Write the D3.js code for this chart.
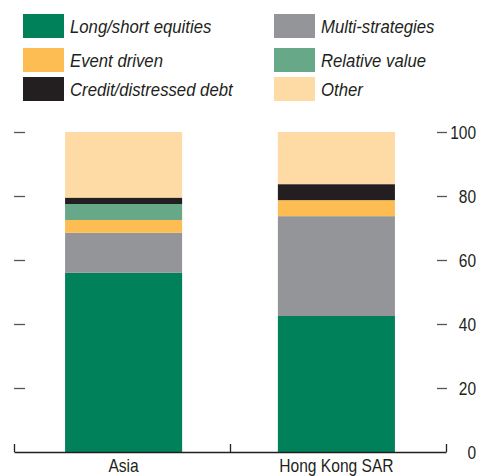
<!DOCTYPE html>
<html>
<head>
<meta charset="utf-8">
<script src="https://cdn.jsdelivr.net/npm/d3@7"></script>
<style>
  body { margin: 0; background: #fff; }
  svg text { font-family: "Liberation Sans Narrow", "Arial Narrow", "Liberation Sans", sans-serif; fill: #231f20; }
  .legend text { font-style: italic; }
</style>
</head>
<body>
<script>
(function() {

    // Categories and series (percent of total)
    var categories = ['Asia', 'Hong Kong SAR'];
    var seriesNames = ['Long/short equities', 'Multi-strategies', 'Event driven',
                       'Relative value', 'Credit/distressed debt', 'Other'];
    var longShort  = [56, 42.5];
    var multiStrat = [12.5, 31.2];
    var eventDriven = [4, 5];
    var relativeValue = [5, 0];
    var creditDebt = [2, 5];
    var other = [20.5, 16.3];
    var yTicks = [0, 20, 40, 60, 80, 100];

    var colors = ['#00815a', '#939598', '#fdbd53', '#66a887', '#231f20', '#fedaa5'];

    var width = 479, height = 476;

    // Narrow the type a bit (reference uses a condensed face)
    function condense(sel, k) {
        sel.each(function() {
            var len = this.getComputedTextLength();
            d3.select(this).attr('textLength', len * k).attr('lengthAdjust', 'spacingAndGlyphs');
        });
    }

    // Build rows for the stack
    var seriesValues = [longShort, multiStrat, eventDriven, relativeValue, creditDebt, other];
    var rows = categories.map(function(c, i) {
        var r = {category: c};
        seriesNames.forEach(function(s, j) { r[s] = seriesValues[j][i]; });
        return r;
    });
    var stacked = d3.stack().keys(seriesNames)(rows);

    var svg = d3.select('body').append('svg')
        .attr('width', width)
        .attr('height', height);

    // Scales
    var x = d3.scaleBand().domain(categories).range([14, 446])
        .paddingInner(0.45).paddingOuter(0.24);
    var y = d3.scaleLinear().domain([0, 100]).range([452, 132]);
    var color = d3.scaleOrdinal().domain(seriesNames).range(colors);

    // Bars
    svg.append('g').selectAll('g')
        .data(stacked)
        .enter().append('g')
        .attr('fill', function(d) { return color(d.key); })
      .selectAll('rect')
        .data(function(d) { return d; })
        .enter().append('rect')
        .attr('x', function(d) { return x(d.data.category); })
        .attr('width', x.bandwidth())
        .attr('y', function(d) { return y(d[1]); })
        .attr('height', function(d) { return y(d[0]) - y(d[1]); });

    // Left ticks (no labels)
    var left = svg.append('g')
        .attr('transform', 'translate(14,0)')
        .call(d3.axisRight(y).tickValues(yTicks.filter(function(v) { return v > 0; }))
            .tickSize(11).tickFormat(''));
    left.select('.domain').remove();
    left.selectAll('line').attr('stroke', '#555').attr('stroke-width', 1.3);

    // Right ticks with labels
    var right = svg.append('g')
        .attr('transform', 'translate(437,0)')
        .call(d3.axisRight(y).tickValues(yTicks).tickSize(10));
    right.select('.domain').remove();
    right.selectAll('line').attr('stroke', '#555').attr('stroke-width', 1.3)
        .attr('display', function(d) { return d === 0 ? 'none' : null; });
    right.selectAll('text')
        .attr('x', 39)
        .attr('text-anchor', 'end')
        .attr('dy', '0.35em')
        .style('font-size', '18px')
        .call(condense, 0.86);

    // Bottom axis line with separators
    var sep = d3.scaleLinear().domain([0, categories.length]).range([14, 446]);
    var bottom = svg.append('g')
        .attr('transform', 'translate(0,452)')
        .call(d3.axisBottom(sep).tickValues(d3.range(categories.length + 1))
            .tickSize(-8).tickSizeOuter(0).tickFormat(''));
    bottom.select('.domain').attr('stroke', '#231f20').attr('stroke-width', 1.3);
    bottom.selectAll('line').attr('stroke', '#231f20').attr('stroke-width', 1.3);

    // Category labels
    var cat = svg.append('g')
        .attr('transform', 'translate(0,452)')
        .call(d3.axisBottom(x).tickSize(0).tickPadding(7));
    cat.select('.domain').remove();
    cat.selectAll('text')
        .attr('dy', '0.71em')
        .style('font-size', '19px')
        .call(condense, 0.82);

    // Legend
    var legend = svg.append('g').attr('class', 'legend');
    var item = legend.selectAll('g')
        .data(seriesNames)
        .enter().append('g')
        .attr('transform', function(d, i) {
            var col = i % 2, row = Math.floor(i / 2);
            var ly = [14, 48, 77][row];
            return 'translate(' + (col === 0 ? 23 : 274) + ',' + ly + ')';
        });
    item.append('rect')
        .attr('width', 41)
        .attr('height', 24)
        .attr('fill', function(d) { return color(d); });
    item.append('text')
        .attr('x', 47)
        .attr('y', 18.5)
        .style('font-size', '19px')
        .text(function(d) { return d; })
        .call(condense, 0.88);

})();
</script>
</body>
</html>
